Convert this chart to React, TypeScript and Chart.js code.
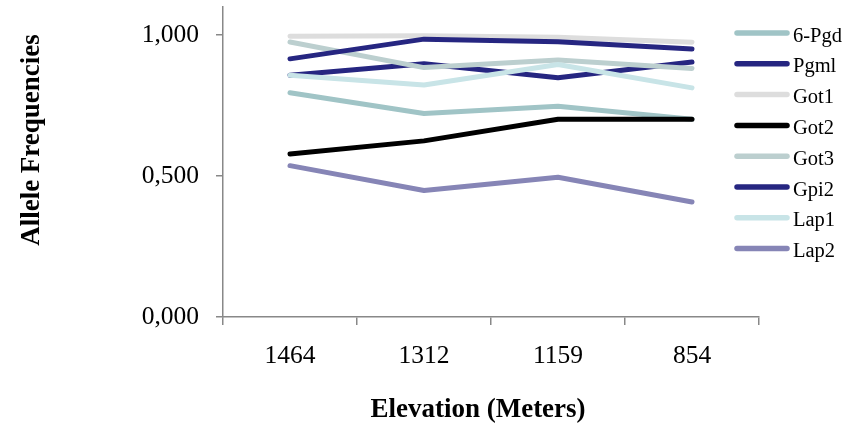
import React, { useEffect, useRef } from "react";
import { Chart, registerables } from "chart.js";

Chart.register(...registerables);

// ---- data ----
const ELEVATIONS = ["1464", "1312", "1159", "854"];
const SERIES_NAMES = ["6-Pgd", "Pgml", "Got1", "Got2", "Got3", "Gpi2", "Lap1", "Lap2"];
const PGD6 = [0.796, 0.722, 0.748, 0.702];
const PGML = [0.858, 0.899, 0.849, 0.905];
const GOT1 = [0.996, 0.998, 0.993, 0.975];
const GOT2 = [0.578, 0.625, 0.702, 0.702];
const GOT3 = [0.976, 0.885, 0.912, 0.882];
const GPI2 = [0.916, 0.986, 0.977, 0.951];
const LAP1 = [0.858, 0.823, 0.896, 0.813];
const LAP2 = [0.537, 0.449, 0.496, 0.408];
const Y_TICKS = [0, 0.5, 1];
const X_TITLE = "Elevation (Meters)";
const Y_TITLE = "Allele Frequencies";

// ---- styles ----
const SERIES_VALUES = [PGD6, PGML, GOT1, GOT2, GOT3, GPI2, LAP1, LAP2];
const COLORS = ["#a0c4c6", "#262681", "#dddddd", "#000000", "#bccfcf", "#262681", "#c8e4e7", "#8685b6"];
const SERIF = "'Liberation Serif', 'Times New Roman', Times, serif";
const AXIS = "#888888";

const overlayPlugin = {
  id: "overlay",
  afterDraw(chart: any) {
    const ctx = chart.ctx as CanvasRenderingContext2D;
    // Y axis title
    ctx.save();
    ctx.fillStyle = "#000";
    ctx.font = `bold 27px ${SERIF}`;
    ctx.textAlign = "center";
    ctx.textBaseline = "alphabetic";
    ctx.translate(38.5, 140);
    ctx.rotate(-Math.PI / 2);
    ctx.fillText(Y_TITLE, 0, 0);
    ctx.restore();
    // X axis title
    ctx.save();
    ctx.fillStyle = "#000";
    ctx.font = `bold 27px ${SERIF}`;
    ctx.textAlign = "center";
    ctx.textBaseline = "alphabetic";
    ctx.fillText(X_TITLE, 478, 416.5);
    ctx.restore();
    // Legend
    ctx.save();
    chart.data.datasets.forEach((ds: any, i: number) => {
      const y = 33 + i * 30.8;
      ctx.beginPath();
      ctx.strokeStyle = ds.borderColor;
      ctx.lineWidth = 5.5;
      ctx.lineCap = "round";
      ctx.moveTo(737, y);
      ctx.lineTo(787, y);
      ctx.stroke();
      ctx.fillStyle = "#000";
      ctx.font = `20.5px ${SERIF}`;
      ctx.textAlign = "left";
      ctx.textBaseline = "alphabetic";
      ctx.fillText(ds.label, 793, y + 8.5);
    });
    ctx.restore();
  },
};

export default function App() {
  const ref = useRef<HTMLCanvasElement | null>(null);

  useEffect(() => {
    if (!ref.current) return;
    const n = SERIES_NAMES.length;
    const chart = new Chart(ref.current, {
      type: "line",
      data: {
        labels: ELEVATIONS,
        datasets: SERIES_NAMES.map((name, i) => ({
          label: name,
          data: SERIES_VALUES[i],
          borderColor: COLORS[i],
          backgroundColor: COLORS[i],
          borderWidth: 5,
          borderCapStyle: "round",
          borderJoinStyle: "round",
          pointRadius: 0,
          pointHoverRadius: 0,
          fill: false,
          tension: 0,
          order: n - 1 - i,
        })) as any,
      },
      options: {
        animation: false,
        responsive: true,
        maintainAspectRatio: false,
        layout: { padding: { top: 7, right: 98, bottom: 0, left: 0 } },
        plugins: {
          legend: { display: false },
          tooltip: { enabled: false },
          title: { display: false },
        },
        scales: {
          x: {
            type: "category",
            offset: true,
            grid: {
              display: true,
              drawOnChartArea: false,
              drawTicks: true,
              tickLength: 8,
              color: AXIS,
              lineWidth: 1.5,
              offset: true,
            },
            border: { display: true, color: AXIS, width: 1.5 },
            ticks: {
              color: "#000",
              font: { family: SERIF, size: 25.5 },
              padding: 16,
              maxRotation: 0,
              autoSkip: false,
            },
            afterFit: (s: any) => {
              s.height = 108;
              s.paddingLeft = 0;
              s.paddingRight = 0;
            },
          },
          y: {
            min: 0,
            max: 1.1,
            grid: {
              display: true,
              drawOnChartArea: false,
              drawTicks: true,
              tickLength: 7,
              color: AXIS,
              lineWidth: 1.5,
            },
            border: { display: true, color: AXIS, width: 1.5 },
            ticks: {
              color: "#000",
              font: { family: SERIF, size: 25.5 },
              padding: 17,
              callback: (v: any) => Number(v).toFixed(3).replace(".", ","),
            },
            afterBuildTicks: (s: any) => {
              s.ticks = Y_TICKS.map((v) => ({ value: v }));
            },
            afterFit: (s: any) => {
              s.width = 223;
              s.paddingTop = 0;
              s.paddingBottom = 0;
            },
          },
        },
      },
      plugins: [overlayPlugin],
    });
    return () => chart.destroy();
  }, []);

  return (
    <div style={{ position: "absolute", left: 0, top: 0, width: 857, height: 425, background: "#fff" }}>
      <canvas ref={ref} />
    </div>
  );
}
